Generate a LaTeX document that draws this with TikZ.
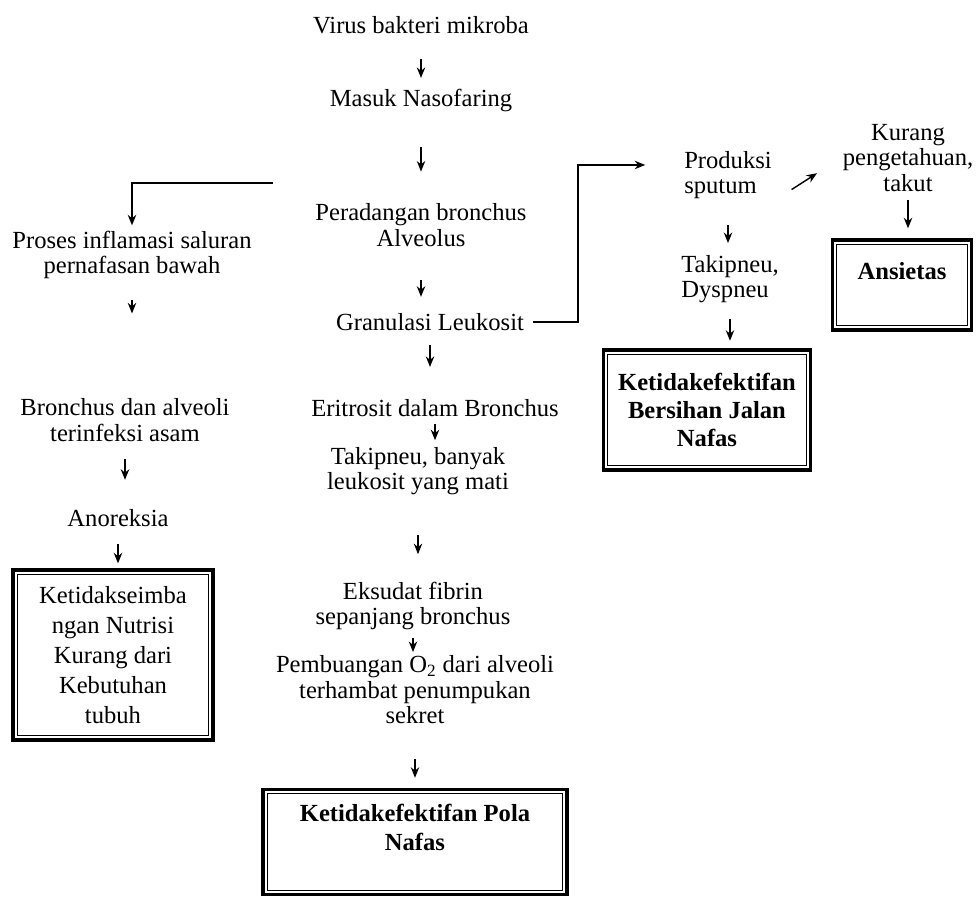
\documentclass[tikz,border=0pt]{standalone}
\usepackage{fontspec}
\setmainfont{Liberation Serif}
\usetikzlibrary{arrows.meta,calc}
\newcommand{\celah}{3.6pt}
\newcommand{\tebal}{2.2pt}

\begin{document}
\begin{tikzpicture}[x=0.02cm, y=-0.02cm,
    teks/.style={align=center, inner sep=1pt, font=\fontsize{14}{14.5}\selectfont},
    kotak/.style={draw, line width=\tebal, align=center, inner sep=2pt, font=\fontsize{14}{16.5}\selectfont},
    panah/.style={-{Stealth[length=6pt,width=4.8pt]}, line width=0.8pt}]
            %\draw[help lines] (0,0) grid[step=50] (977,902);
            \useasboundingbox (0,0) rectangle (977,902);
            % kolom tengah
            \node[teks] (virus) at (421,25) {Virus bakteri mikroba};
            \node[teks] (nasofaring) at (421,100) {Masuk Nasofaring};
            \node[teks] (peradangan) at (421,225) {Peradangan bronchus\\Alveolus};
            \node[teks] (granulasi) at (430,322) {Granulasi Leukosit};
            \node[teks] (eritrosit) at (435,408) {Eritrosit dalam Bronchus};
            \node[teks] (takipneu) at (418,471) {Takipneu, banyak\\leukosit yang mati};
            \node[teks] (eksudat) at (413,606) {Eksudat fibrin\\sepanjang bronchus};
            \node[teks] (pembuangan) at (415,690) {Pembuangan O\textsubscript{2} dari alveoli\\terhambat penumpukan\\sekret};
            \node[kotak, font=\fontsize{14}{16.5}\selectfont\bfseries, minimum width=6.08cm, minimum height=2.1cm] (pola) at (415,842) {Ketidakefektifan Pola\\Nafas\\~};
            % kolom kiri
            \node[teks] (proses) at (132,255) {Proses inflamasi saluran\\pernafasan bawah};
            \node[teks] (bronkus) at (125,420) {Bronchus dan alveoli\\terinfeksi asam};
            \node[teks] (anoreksia) at (118,518) {Anoreksia};
            \node[kotak, font=\fontsize{14}{17}\selectfont, minimum width=4cm, minimum height=3.4cm] (nutrisi) at (113,655) {Ketidakseimba\\ngan Nutrisi\\Kurang dari\\Kebutuhan\\tubuh};
            % kolom kanan
            \node[teks, align=left] (produksi) at (728,175) {Produksi\\sputum};
            \node[teks, align=left] (dyspneu) at (730,279) {Takipneu,\\Dyspneu};
            \node[kotak, font=\fontsize{14}{16}\selectfont\bfseries, minimum width=4.14cm, minimum height=2.4cm] (bersihan) at (707,410) {Ketidakefektifan\\Bersihan Jalan\\Nafas};
            \node[teks] (kurang) at (908,158) {Kurang\\pengetahuan,\\takut};
            \node[kotak, font=\fontsize{14}{16}\selectfont\bfseries, minimum width=2.78cm, minimum height=1.8cm] (ansietas) at (902,285) {Ansietas\\~};
            \coordinate (cabang) at (273,183);
            % garis dalam kotak
            \foreach \k in {pola,nutrisi,bersihan,ansietas} {
                \draw[line width=0.5pt] ([shift={(\celah,\celah)}]\k.south west) rectangle ([shift={(-\celah,-\celah)}]\k.north east);
            }
            % panah lurus ke bawah
            \foreach \a/\b/\p/\q in {virus/nasofaring/.45/.83, nasofaring/peradangan/.38/.66,
                peradangan/granulasi/.5/.77, granulasi/eritrosit/.19/.53, eritrosit/takipneu/.21/.82,
                takipneu/eksudat/.46/.69, eksudat/pembuangan/.29/.92, pembuangan/pola/.53/.84,
                proses/bronkus/.16/.28, bronkus/anoreksia/.25/.57, anoreksia/nutrisi/.39/.88,
                produksi/dyspneu/.46/.81, dyspneu/bersihan/.32/.83, kurang/ansietas/.13/.78} {
                \draw[panah] ($(\a.south)!\p!(\a.south |- \b.north)$) -- ($(\a.south)!\q!(\a.south |- \b.north)$);
            }
            \draw[panah, shorten >=2pt] (cabang) -| (proses.north);
            \draw[panah, shorten <=4pt, shorten >=21pt] (granulasi.east) -- ++(52,0) |- ([yshift=5.7pt]produksi.west);
            \draw[panah, shorten <=12pt, shorten >=16pt] (produksi.south east) -- (kurang.west);
    \end{tikzpicture}
\end{document}
